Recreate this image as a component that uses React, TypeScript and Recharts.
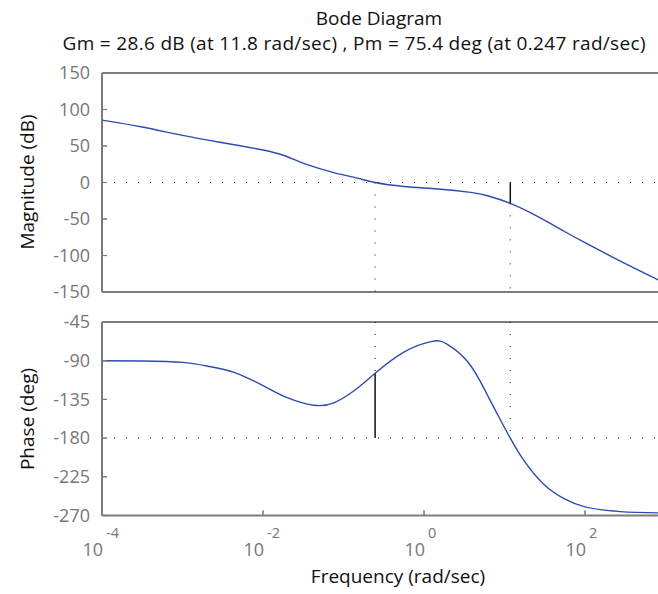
import React from "react";
import { LineChart, Line, XAxis, YAxis, ReferenceLine } from "recharts";

// frequency (rad/sec) and values
const magFreq = [0.0001, 0.000316, 0.001, 0.00316, 0.01, 0.0182, 0.0355, 0.0759, 0.148, 0.247, 0.562, 1.48, 3.8, 6.17, 11.8, 25.7, 55, 100, 275, 832];
const magDb = [85.5, 76, 64.5, 54.5, 44.6, 37, 24.5, 13.6, 6, 0, -5.4, -9, -13.6, -18.1, -28.6, -46.4, -66.8, -82.5, -107.7, -134];

const phaseFreq = [0.0001, 0.000316, 0.001, 0.00224, 0.00437, 0.01, 0.02, 0.0427, 0.0759, 0.135, 0.247, 0.562, 1.26, 1.95, 3.47, 5.62, 8.13, 11.8, 17.4, 30.9, 55, 100, 275, 832];
const phaseDeg = [-90, -90.3, -92, -97, -103.5, -119, -133, -141.8, -139, -125, -104.6, -80, -67.5, -71, -91, -123, -152, -180, -206, -234, -250.5, -259.9, -265.5, -267];

const freqTicks = [1e-4, 1e-2, 1, 100];
const freqTickExp = ["-4", "-2", "0", "2"];
const magTicks = [-150, -100, -50, 0, 50, 100, 150];
const phaseTicks = [-270, -225, -180, -135, -90, -45];

// Gm = 28.6 dB at 11.8 rad/sec, Pm = 75.4 deg at 0.247 rad/sec
const gm = { freq: 11.8, db: -28.6 };
const pm = { freq: 0.247, deg: -104.6 };

const magData = magFreq.map((f, i) => ({ f, v: magDb[i] }));
const phaseData = phaseFreq.map((f, i) => ({ f, v: phaseDeg[i] }));

const FONT = "'Open Sans', sans-serif";
const AXIS = "#7d7d7d";
const LABEL = "#777";
const BLUE = "#2c4cae";
const MARK = "#111";
const DOTS = "1 11";
const TICK = 5;

// bottom axis with labels: tick mark drawn here too (the axis' own tick lines don't show)
const FreqTick = (props: any) => {
  const { x, y, index } = props;
  return (
    <g>
      <line x1={x} x2={x} y1={y - TICK} y2={y} stroke={AXIS} strokeWidth={1.2} />
      <text x={x + 1} y={y + 40} textAnchor="end" fill={LABEL} fontSize={18} fontFamily={FONT}>
        10
      </text>
      <text x={x + 4} y={y + 22} fill={LABEL} fontSize={14.5} fontFamily={FONT}>
        {freqTickExp[index]}
      </text>
    </g>
  );
};

const BottomMark = (props: any) => (
  <line x1={props.x} x2={props.x} y1={props.y} y2={props.y + TICK} stroke={AXIS} strokeWidth={1.2} />
);
const TopMark = (props: any) => (
  <line x1={props.x} x2={props.x} y1={props.y - TICK} y2={props.y} stroke={AXIS} strokeWidth={1.2} />
);

const ValueTick = (props: any) => {
  const { x, y, payload } = props;
  return (
    <g>
      <line x1={x + 12} x2={x + 17} y1={y} y2={y} stroke={AXIS} strokeWidth={1.2} />
      <text x={x} y={y} dy="0.35em" textAnchor="end" fill={LABEL} fontSize={18} fontFamily={FONT}>
        {payload.value}
      </text>
    </g>
  );
};

const border = { stroke: AXIS, strokeWidth: 2, ifOverflow: "visible" as const };

export default function App() {
  return (
    <div style={{ position: "absolute", left: 0, top: 0, width: 658, height: 594, overflow: "hidden", background: "#fff" }}>
      <div style={{ position: "absolute", left: 0, top: 0 }}>
        <LineChart width={700} height={302} data={magData} margin={{ top: 73, right: 34.5, bottom: 10, left: 0 }}>
          <XAxis dataKey="f" type="number" scale="log" domain={[1e-4, 1e3]} ticks={freqTicks} allowDataOverflow
            height={0} stroke={AXIS} tickSize={-TICK} tickMargin={0} tick={<BottomMark />} />
          <XAxis xAxisId="top" orientation="top" dataKey="f" type="number" scale="log" domain={[1e-4, 1e3]} ticks={freqTicks} allowDataOverflow
            height={0} stroke={AXIS} tickSize={-TICK} tickMargin={0} tick={<TopMark />} />
          <YAxis type="number" domain={[-150, 150]} ticks={magTicks} width={102} interval={0}
            stroke={AXIS} tickSize={-TICK} tickMargin={17} tick={<ValueTick />} />
          <ReferenceLine y={150} {...border} />
          <ReferenceLine y={-150} {...border} />
          <ReferenceLine x={1e-4} {...border} />
          <ReferenceLine y={0} stroke={MARK} strokeDasharray={DOTS} />
          <ReferenceLine segment={[{ x: pm.freq, y: 0 }, { x: pm.freq, y: -150 }]} stroke={MARK} strokeDasharray={DOTS} />
          <ReferenceLine segment={[{ x: gm.freq, y: gm.db }, { x: gm.freq, y: -150 }]} stroke={MARK} strokeDasharray={DOTS} />
          <ReferenceLine segment={[{ x: gm.freq, y: 0 }, { x: gm.freq, y: gm.db }]} stroke={MARK} strokeWidth={1.5} />
          <Line dataKey="v" type="natural" stroke={BLUE} strokeWidth={1.4} dot={false} isAnimationActive={false} />
        </LineChart>
      </div>
      <div style={{ position: "absolute", left: 0, top: 304 }}>
        <LineChart width={700} height={290} data={phaseData} margin={{ top: 18, right: 34.5, bottom: 38.5, left: 0 }}>
          <XAxis dataKey="f" type="number" scale="log" domain={[1e-4, 1e3]} ticks={freqTicks} allowDataOverflow
            height={40} stroke={AXIS} tickSize={-TICK} tickMargin={TICK} tick={<FreqTick />} />
          <XAxis xAxisId="top" orientation="top" dataKey="f" type="number" scale="log" domain={[1e-4, 1e3]} ticks={freqTicks} allowDataOverflow
            height={0} stroke={AXIS} tickSize={-TICK} tickMargin={0} tick={<TopMark />} />
          <YAxis type="number" domain={[-270, -45]} ticks={phaseTicks} width={102} interval={0}
            stroke={AXIS} tickSize={-TICK} tickMargin={17} tick={<ValueTick />} />
          <ReferenceLine y={-45} {...border} />
          <ReferenceLine y={-270} {...border} />
          <ReferenceLine x={1e-4} {...border} />
          <ReferenceLine y={-180} stroke={MARK} strokeDasharray={DOTS} />
          <ReferenceLine segment={[{ x: gm.freq, y: -45 }, { x: gm.freq, y: -180 }]} stroke={MARK} strokeDasharray={DOTS} />
          <ReferenceLine segment={[{ x: pm.freq, y: -45 }, { x: pm.freq, y: pm.deg }]} stroke={MARK} strokeDasharray={DOTS} />
          <ReferenceLine segment={[{ x: pm.freq, y: -180 }, { x: pm.freq, y: pm.deg }]} stroke={MARK} strokeWidth={1.5} />
          <Line dataKey="v" type="natural" stroke={BLUE} strokeWidth={1.4} dot={false} isAnimationActive={false} />
        </LineChart>
      </div>
      <svg width={658} height={594} style={{ position: "absolute", left: 0, top: 0, pointerEvents: "none" }}>
        <g fontFamily={FONT} fill="#111" fontSize={19}>
          <text x={379} y={25} textAnchor="middle">Bode Diagram</text>
          <text x={354} y={50} textAnchor="middle" textLength={583} lengthAdjust="spacing">
            Gm = 28.6 dB (at 11.8 rad/sec) ,  Pm = 75.4 deg (at 0.247 rad/sec)
          </text>
          <text x={398} y={583} textAnchor="middle">Frequency (rad/sec)</text>
          <text x={0} y={0} textAnchor="middle" transform="translate(34 182) rotate(-90)">Magnitude (dB)</text>
          <text x={0} y={0} textAnchor="middle" transform="translate(34 419) rotate(-90)">Phase (deg)</text>
        </g>
      </svg>
    </div>
  );
}
